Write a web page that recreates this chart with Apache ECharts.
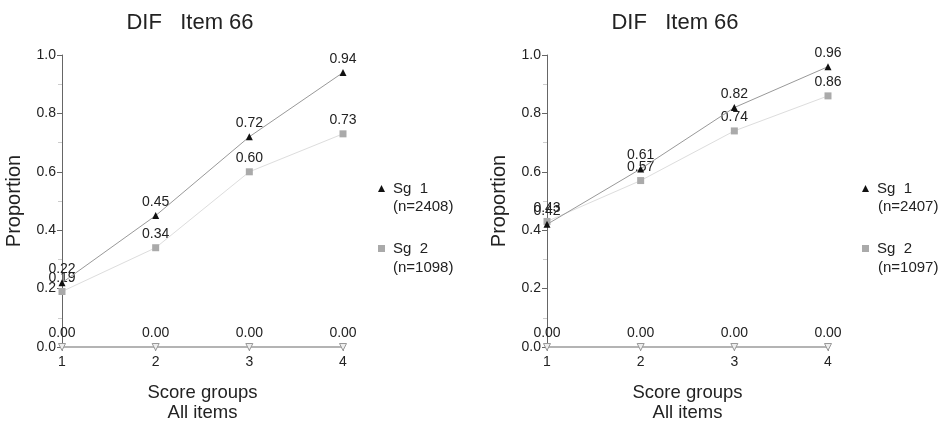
<!DOCTYPE html>
<html>
<head>
<meta charset="utf-8">
<script src="https://cdn.jsdelivr.net/npm/echarts@6/dist/echarts.min.js"></script>
<style>
html, body { margin: 0; padding: 0; background: #fff; }
#main { width: 945px; height: 422px; }
</style>
</head>
<body>
<div id="main"></div>
<script>
// score groups on the x axis
var scoreGroups = [1, 2, 3, 4];
var groupNames = ['Sg  1', 'Sg  2'];

// left panel
var leftSg1 = [0.22, 0.45, 0.72, 0.94];
var leftSg2 = [0.19, 0.34, 0.60, 0.73];
var leftDif = [0, 0, 0, 0];
var leftCounts = ['(n=2408)', '(n=1098)'];

// right panel
var rightSg1 = [0.42, 0.61, 0.82, 0.96];
var rightSg2 = [0.43, 0.57, 0.74, 0.86];
var rightDif = [0, 0, 0, 0];
var rightCounts = ['(n=2407)', '(n=1097)'];

var titleText = 'DIF   Item 66';
var FONT = 'Liberation Sans, Arial, sans-serif';

function pairs(ys) {
    return scoreGroups.map(function(x, i) { return [x, ys[i]]; });
}

function xAxis(idx) {
    return {
        type: 'value', gridIndex: idx, min: 1, max: 4, interval: 1,
        name: 'Score groups\nAll items', nameLocation: 'middle', nameGap: 36,
        nameTextStyle: { fontFamily: FONT, fontSize: 18.5, color: '#222', lineHeight: 20 },
        axisLine: { lineStyle: { color: '#b4b4b4', width: 2 } },
        axisTick: { length: 4, lineStyle: { color: '#888' } },
        axisLabel: { fontFamily: FONT, fontSize: 14, color: '#222', margin: 8 },
        splitLine: { show: false }
    };
}

function yAxis(idx) {
    return {
        type: 'value', gridIndex: idx, min: 0, max: 1, interval: 0.2,
        name: 'Proportion', nameLocation: 'middle', nameGap: 38, nameRotate: 90,
        nameTextStyle: { fontFamily: FONT, fontSize: 20, color: '#222' },
        axisLine: { show: true, lineStyle: { color: '#666', width: 1 } },
        axisTick: { show: true, length: 5, lineStyle: { color: '#666' } },
        minorTick: { show: true, splitNumber: 2, length: 4, lineStyle: { color: '#ccc' } },
        axisLabel: { fontFamily: FONT, fontSize: 14, color: '#222', margin: 6,
            formatter: function(v) { return v.toFixed(1); } },
        splitLine: { show: false }
    };
}

function label() {
    return {
        show: true, position: 'top', distance: 3,
        fontFamily: FONT, fontSize: 14, color: '#222',
        formatter: function(p) { return p.value[1].toFixed(2); }
    };
}

function series(idx, sg1, sg2, dif) {
    return [{
        name: groupNames[0], type: 'line', xAxisIndex: idx, yAxisIndex: idx,
        data: pairs(sg1), symbol: 'triangle', symbolSize: 7,
        itemStyle: { color: '#111' },
        lineStyle: { color: '#999', width: 1 },
        label: label(), z: 4
    }, {
        name: groupNames[1], type: 'line', xAxisIndex: idx, yAxisIndex: idx,
        data: pairs(sg2), symbol: 'rect', symbolSize: 7,
        itemStyle: { color: '#aaa' },
        lineStyle: { color: '#ddd', width: 1 },
        label: label(), z: 3
    }, {
        name: 'DIF', type: 'line', xAxisIndex: idx, yAxisIndex: idx,
        data: pairs(dif), symbol: 'triangle', symbolRotate: 180, symbolSize: 7,
        itemStyle: { color: '#eee', borderColor: '#999', borderWidth: 1 },
        lineStyle: { color: '#b4b4b4', width: 2 },
        label: label(), z: 2
    }];
}

function legend(left) {
    return {
        orient: 'vertical', left: left, top: 181, padding: 0,
        itemWidth: 7, itemHeight: 7, itemGap: 45,
        data: [
            { name: groupNames[0], icon: 'triangle' },
            { name: groupNames[1], icon: 'rect' }
        ],
        textStyle: { fontFamily: FONT, fontSize: 15, color: '#222', padding: [0, 0, 0, 3] }
    };
}

function countText(x, y, txt) {
    return {
        type: 'text', left: x, top: y,
        style: { text: txt, font: '15px ' + FONT, fill: '#222' }
    };
}

function title(center) {
    return {
        text: titleText, left: center, top: 12, textAlign: 'center', padding: 0,
        textStyle: { fontFamily: FONT, fontSize: 22, fontWeight: 'normal', color: '#222' }
    };
}

var chart = echarts.init(document.getElementById('main'));
chart.setOption({
    backgroundColor: '#fff',
    animation: false,
    title: [title(190), title(675)],
    legend: [legend(378), legend(862)],
    graphic: [
        countText(393, 199, leftCounts[0]),
        countText(393, 260, leftCounts[1]),
        countText(878, 199, rightCounts[0]),
        countText(878, 260, rightCounts[1])
    ],
    grid: [
        { left: 62, right: 602, top: 55, bottom: 75, outerBoundsMode: 'none' },
        { left: 547, right: 117, top: 55, bottom: 75, outerBoundsMode: 'none' }
    ],
    xAxis: [xAxis(0), xAxis(1)],
    yAxis: [yAxis(0), yAxis(1)],
    series: series(0, leftSg1, leftSg2, leftDif)
        .concat(series(1, rightSg1, rightSg2, rightDif))
});
</script>
</body>
</html>
